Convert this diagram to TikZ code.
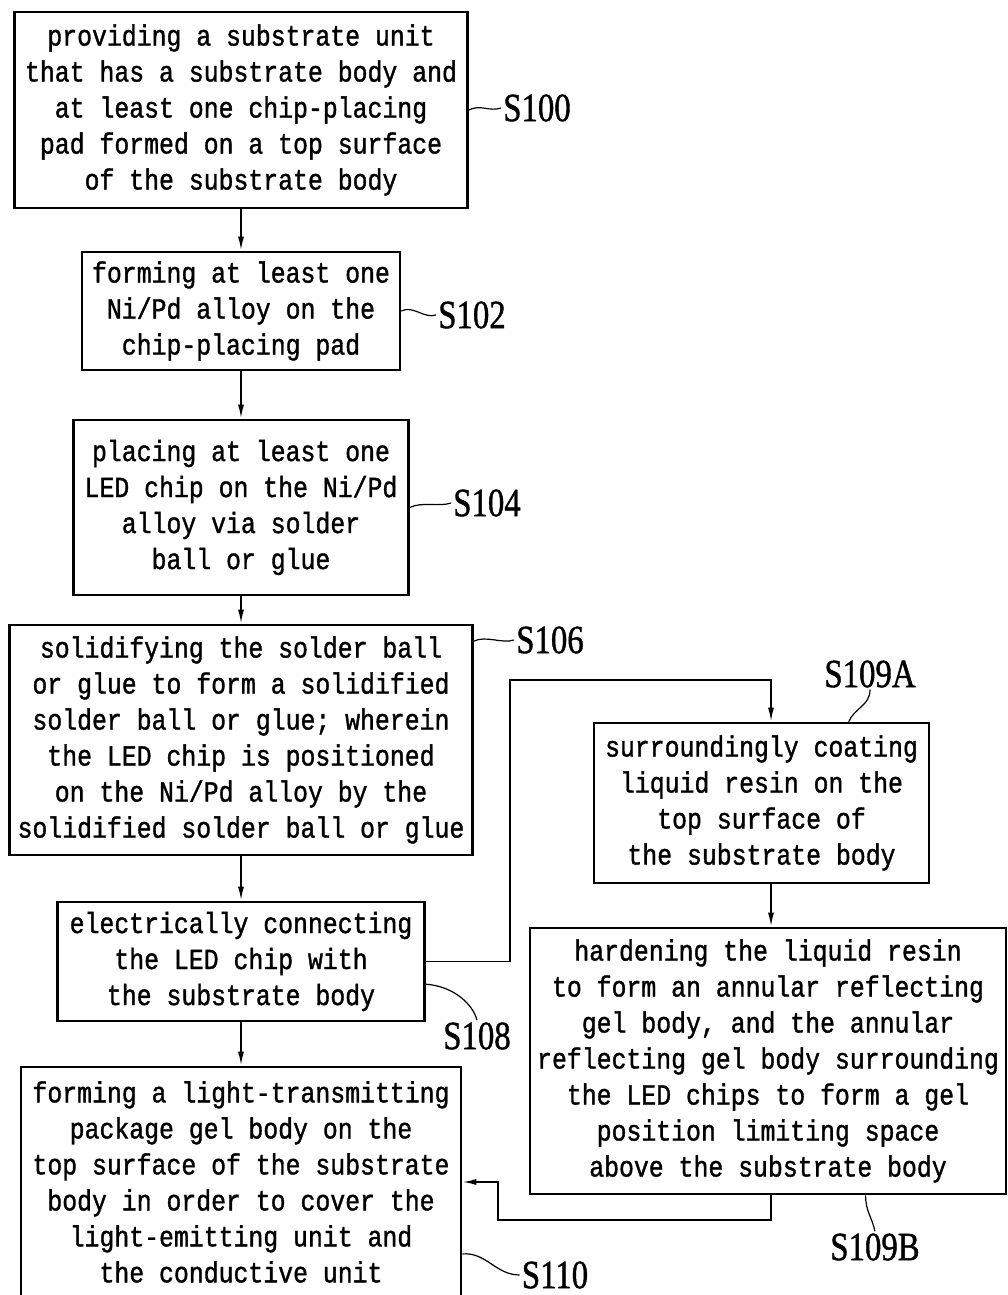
\documentclass[tikz,border=0pt]{standalone}
\usepackage{fontspec}
\usetikzlibrary{arrows.meta}
\newfontfamily\boxfont[FakeStretch=0.85,FakeBold=1.2]{Liberation Mono}
\newfontfamily\tagfont[FakeBold=1.2]{Liberation Serif}
\newcommand{\steptag}[1]{\scalebox{0.82}[1]{#1}}

\begin{document}
\begin{tikzpicture}[x=1pt,y=1pt,
  stepbox/.style={draw,line width=2.6pt,align=center,inner sep=0pt,font=\boxfont\fontsize{29.2}{36}\selectfont},
  flow/.style={line width=1.8pt,-{Latex[length=14pt,width=6pt]}},
  lead/.style={line width=1.2pt},
  tagnode/.style={inner sep=2pt,font=\tagfont\fontsize{40}{40}\selectfont}]
  \useasboundingbox (0,0) rectangle (1007,-1295);

  % main column
  \node[stepbox,minimum width=453pt,minimum height=196pt] (s100) at (241,-110)
    {providing a substrate unit\\that has a substrate body and\\at least one chip-placing\\pad formed on a top surface\\of the substrate body};
  \node[stepbox,minimum width=318pt,minimum height=118pt] (s102) at (241,-311)
    {forming at least one\\Ni/Pd alloy on the\\chip-placing pad};
  \node[stepbox,minimum width=335pt,minimum height=175pt] (s104) at (241,-507.5)
    {placing at least one\\LED chip on the Ni/Pd\\alloy via solder\\ball or glue};
  \node[stepbox,minimum width=463pt,minimum height=230pt] (s106) at (241,-740)
    {solidifying the solder ball\\or glue to form a solidified\\solder ball or glue; wherein\\the LED chip is positioned\\on the Ni/Pd alloy by the\\solidified solder ball or glue};
  \node[stepbox,minimum width=367pt,minimum height=119pt] (s108) at (241,-961.5)
    {electrically connecting\\the LED chip with\\the substrate body};
  \node[stepbox,minimum width=440pt,minimum height=230pt] (s110) at (241,-1182)
    {forming a light-transmitting\\package gel body on the\\top surface of the substrate\\body in order to cover the\\light-emitting unit and\\the conductive unit};

  % side branch
  \node[stepbox,minimum width=335pt,minimum height=160pt] (s109a) at (761.5,-803)
    {surroundingly coating\\liquid resin on the\\top surface of\\the substrate body};
  \node[stepbox,minimum width=476pt,minimum height=266pt] (s109b) at (768,-1061)
    {hardening the liquid resin\\to form an annular reflecting\\gel body, and the annular\\reflecting gel body surrounding\\the LED chips to form a gel\\position limiting space\\above the substrate body};

  % step tags
  \node[tagnode] (l100) at (537,-108) {\steptag{S100}};
  \node[tagnode] (l102) at (472,-315) {\steptag{S102}};
  \node[tagnode] (l104) at (487,-503) {\steptag{S104}};
  \node[tagnode] (l106) at (550,-640) {\steptag{S106}};
  \node[tagnode] (l108) at (477,-1036) {\steptag{S108}};
  \node[tagnode] (l109a) at (870,-674) {\steptag{S109A}};
  \node[tagnode] (l109b) at (875,-1247) {\steptag{S109B}};
  \node[tagnode] (l110) at (555,-1275) {\steptag{S110}};

  \coordinate (turnA) at (510,-680);
  \coordinate (topA) at (771,-680);
  \coordinate (botB) at (771,-1220);
  \coordinate (backB) at (498,-1220);

  % connectors
  \draw[flow] (s100) -- (s102);
  \draw[flow] (s102) -- (s104);
  \draw[flow] (s104) -- (s106);
  \draw[flow] (s106) -- (s108);
  \draw[flow] (s108) -- (s110);
  \draw[flow] (s108.east) -| (turnA) -- (topA) -- (topA |- s109a.north);
  \draw[flow] (topA |- s109a.south) -- (topA |- s109b.north);
  \draw[flow] (botB |- s109b.south) -- (botB) -- (backB) |- (s110.east);

  % leaders
  \draw[lead] (s100.east) .. controls +(12,6) and +(-12,-4) .. (l100.west);
  \draw[lead] (s102.east) .. controls +(12,6) and +(-12,-4) .. (l102.west);
  \draw[lead] (s104.east) .. controls +(12,6) and +(-12,-4) .. (l104.west);
  \draw[lead] (s106.23) .. controls +(12,6) and +(-12,-4) .. (l106.west);
  \draw[lead] (s108.-7) .. controls +(28,-2) and +(-4,16) .. (l108.north);
  \draw[lead] (s109a.43) .. controls +(6,14) and +(0,-16) .. (l109a.south);
  \draw[lead] (s109b.-54) .. controls +(0,-16) and +(-3,14) .. (l109b.north);
  \draw[lead] (s110.-18) .. controls +(24,2) and +(-24,0) .. (l110.west);
\end{tikzpicture}
\end{document}
